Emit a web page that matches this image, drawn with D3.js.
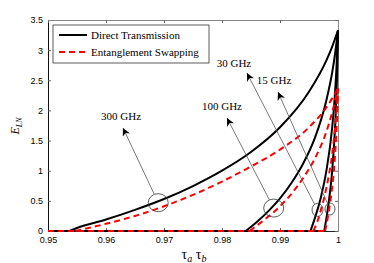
<!DOCTYPE html>
<html>
<head>
<meta charset="utf-8">
<script src="https://cdn.jsdelivr.net/npm/d3@7"></script>
<style>
  body{margin:0;background:#fff}
  svg{display:block}
  .tick text{font-family:"Liberation Sans",Arial,sans-serif;font-size:9px;fill:#000}
  .serif{font-family:"Liberation Serif","Times New Roman",serif}
</style>
</head>
<body>
<svg id="chart" width="374" height="263"></svg>
<script>
// values: [tau_a*tau_b, E_LN]
const direct300 = [[0.9537,0],[0.955,0.05],[0.96,0.19],[0.965,0.35],[0.97,0.53],[0.975,0.745],[0.98,1.0],[0.985,1.31],[0.99,1.72],[0.995,2.31],[0.998,2.83],[0.999,3.06],[1,3.33]];
const direct100 = [[0.9841,0],[0.986,0.15],[0.988,0.33],[0.99,0.54],[0.992,0.8],[0.994,1.12],[0.996,1.54],[0.998,2.17],[0.999,2.63],[0.9995,2.94],[1,3.33]];
const direct30 = [[0.99525,0],[0.996,0.21],[0.997,0.54],[0.998,1.0],[0.999,1.72],[0.9995,2.31],[0.99975,2.73],[1,3.33]];
const direct15 = [[0.99762,0],[0.998,0.21],[0.9985,0.55],[0.999,1.0],[0.9995,1.73],[0.99975,2.31],[0.99988,2.74],[1,3.33]];

const swap300 = [[0.9547,0],[0.96,0.12],[0.965,0.25],[0.97,0.41],[0.975,0.6],[0.98,0.82],[0.985,1.07],[0.99,1.35],[0.995,1.72],[0.998,2.05],[0.999,2.2],[1,2.37]];
const swap100 = [[0.9848,0],[0.986,0.09],[0.988,0.24],[0.99,0.41],[0.992,0.62],[0.994,0.88],[0.996,1.2],[0.998,1.65],[0.999,1.97],[1,2.37]];
const swap30 = [[0.99574,0],[0.9965,0.17],[0.997,0.33],[0.998,0.72],[0.999,1.28],[0.9995,1.72],[0.99975,2.0],[1,2.37]];
const swap15 = [[0.99776,0],[0.998,0.1],[0.9985,0.38],[0.999,0.73],[0.9995,1.27],[0.99975,1.7],[1,2.37]];

const xTicks = [0.95,0.96,0.97,0.98,0.99,1];
const yTicks = [0,0.5,1,1.5,2,2.5,3,3.5];
const legendLabels = ["Direct Transmission","Entanglement Swapping"];

// frequency markers: circle centre, arrow tip, label (all in data units)
const freqLabels = ["300 GHz","100 GHz","30 GHz","15 GHz"];
const markCentre = [[0.969,0.47],[0.98891,0.38],[0.99647,0.35],[0.99862,0.365]];
const markTip = [[0.96293,1.71],[0.98086,1.874],[0.98431,2.62],[0.98966,2.305]];
const markLabel = [[0.96259,1.84],[0.98,2.007],[0.98207,2.72],[0.98897,2.438]];

const svg = d3.select("#chart");
const W = 374, H = 263;
const m = {l:48, r:36, t:20, b:32};

const x = d3.scaleLinear().domain([0.95,1]).range([m.l, W-m.r]);
const y = d3.scaleLinear().domain([0,3.5]).range([H-m.b, m.t]);

// axes (matlab box, ticks inside)
const gx = svg.append("g").attr("transform",`translate(0,${H-m.b})`)
  .call(d3.axisBottom(x).tickValues(xTicks).tickSize(-3).tickPadding(6).tickFormat(d3.format("")));
const gy = svg.append("g").attr("transform",`translate(${m.l},0)`)
  .call(d3.axisLeft(y).tickValues(yTicks).tickSize(-3).tickPadding(5).tickFormat(d3.format("")));
svg.append("g").attr("transform",`translate(0,${m.t})`)
  .call(d3.axisTop(x).tickValues(xTicks).tickSize(-3).tickFormat(""));
svg.append("g").attr("transform",`translate(${W-m.r},0)`)
  .call(d3.axisRight(y).tickValues(yTicks).tickSize(-3).tickFormat(""));
svg.selectAll(".domain").attr("stroke","#888");
svg.selectAll(".tick line").attr("stroke","#666");
gx.select(".domain").attr("stroke","#222");
gy.select(".domain").attr("stroke","#111");

// curves
const line = d3.line().x(d=>x(d[0])).y(d=>y(d[1])).curve(d3.curveMonotoneX);
const flat = d3.line().x(d=>x(d[0])).y(d=>y(d[1]));
const plot = svg.append("g");

function draw(series, color, dash){
  plot.append("path")
    .attr("d", flat([[0.95,0],[series[0][0],0]]))
    .attr("fill","none").attr("stroke",color).attr("stroke-width",2)
    .attr("stroke-dasharray",dash);
  plot.append("path")
    .attr("d", line(series))
    .attr("fill","none").attr("stroke",color).attr("stroke-width",2)
    .attr("stroke-dasharray",dash);
}
[direct300,direct100,direct30,direct15].forEach(s=>draw(s,"#000",null));
[swap300,swap100,swap30,swap15].forEach(s=>draw(s,"#ff0000","6,4"));

// circles + arrows
const radii = [[10,9],[10,9],[5.5,6.5],[5,6]];
const defs = svg.append("defs");
defs.append("marker").attr("id","head")
  .attr("viewBox","0 0 10 10").attr("refX",10).attr("refY",5)
  .attr("markerWidth",8).attr("markerHeight",8).attr("markerUnits","userSpaceOnUse")
  .attr("orient","auto")
  .append("path").attr("d","M0,0 L10,5 L0,10 L3,5 Z").attr("fill","#000");

const ann = svg.append("g");
freqLabels.forEach((lab,i)=>{
  const cx = x(markCentre[i][0]), cy = y(markCentre[i][1]);
  const tx = x(markTip[i][0]), ty = y(markTip[i][1]);
  const [rx,ry] = radii[i];
  ann.append("ellipse").attr("cx",cx).attr("cy",cy).attr("rx",rx).attr("ry",ry)
    .attr("fill","none").attr("stroke","#333").attr("stroke-width",0.8);
  const a = Math.atan2((ty-cy)/ry,(tx-cx)/rx);
  ann.append("line")
    .attr("x1",cx+rx*Math.cos(a)).attr("y1",cy+ry*Math.sin(a))
    .attr("x2",tx).attr("y2",ty)
    .attr("stroke","#555").attr("stroke-width",0.8)
    .attr("marker-end","url(#head)");
  ann.append("text").attr("class","serif")
    .attr("x",x(markLabel[i][0])).attr("y",y(markLabel[i][1]))
    .attr("text-anchor","middle").attr("font-size",11).text(lab);
});

// legend
const lg = svg.append("g").attr("transform","translate(53,25)");
lg.append("rect").attr("width",156).attr("height",38)
  .attr("fill","#fff").attr("stroke","#333").attr("stroke-width",0.8);
legendLabels.forEach((lab,i)=>{
  const yy = 10 + i*17;
  lg.append("line").attr("x1",6).attr("x2",34).attr("y1",yy).attr("y2",yy)
    .attr("stroke", i ? "#ff0000" : "#000").attr("stroke-width",2)
    .attr("stroke-dasharray", i ? "6,4" : null);
  lg.append("text").attr("class","serif").attr("x",38).attr("y",yy+3.5)
    .attr("font-size",11).text(lab);
});

// axis labels
const xl = svg.append("text").attr("class","serif")
  .attr("x",194).attr("y",259).attr("text-anchor","middle").attr("font-size",14);
xl.append("tspan").text("τ");
xl.append("tspan").attr("font-size",10).attr("font-style","italic").attr("dy",3).text("a");
xl.append("tspan").attr("dy",-3).text(" τ");
xl.append("tspan").attr("font-size",10).attr("font-style","italic").attr("dy",3).text("b");

const yl = svg.append("text").attr("class","serif")
  .attr("transform","translate(19,126) rotate(-90)")
  .attr("text-anchor","middle").attr("font-size",12).attr("font-style","italic");
yl.append("tspan").text("E");
yl.append("tspan").attr("font-size",8).attr("dy",3).text("LN");
</script>
</body>
</html>
